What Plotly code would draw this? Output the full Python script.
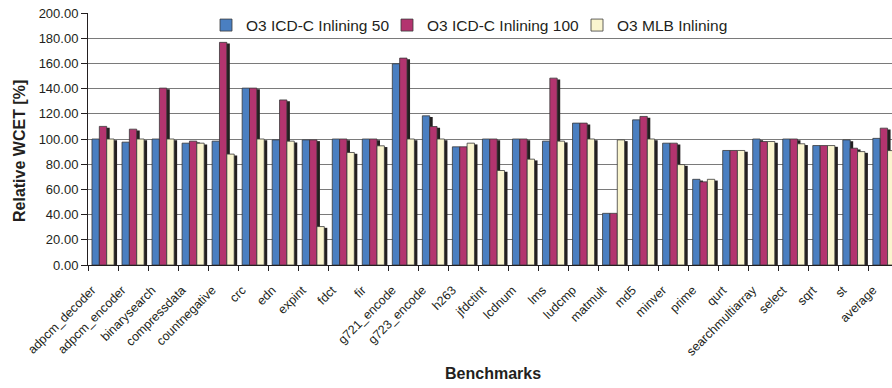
import plotly.graph_objects as go

benchmarks = ["adpcm_decoder", "adpcm_encoder", "binarysearch", "compressdata", "countnegative",
              "crc", "edn", "expint", "fdct", "fir", "g721_encode", "g723_encode", "h263",
              "jfdctint", "lcdnum", "lms", "ludcmp", "matmult", "md5", "minver", "prime", "qurt",
              "searchmultiarray", "select", "sqrt", "st", "average"]
icdc_50 = [100, 97.5, 100, 96.7, 98.3, 140.4, 99.3, 99.3, 100, 100, 159.7, 118.4, 93.8,
           100, 100, 98.3, 112.6, 41, 115.2, 96.7, 68, 90.9, 100, 100, 94.8, 99.3, 100.5]
icdc_100 = [110, 107.8, 140.4, 98.3, 176.7, 140.4, 131, 99.3, 100, 100, 164.2, 109.9, 93.8,
            100, 100, 148.3, 112.6, 41, 117.9, 96.7, 66, 90.9, 98, 100, 94.8, 92.7, 108.6]
mlb = [100, 100, 100, 96.7, 88, 100, 98.3, 30.5, 89.3, 94.6, 100, 100, 96.7,
       75, 84, 98.3, 100, 99.3, 100, 79.7, 68, 90.9, 98, 96.2, 94.8, 90, 90.8]
series_names = ["O3 ICD-C Inlining 50", "O3 ICD-C Inlining 100", "O3 MLB Inlining"]

colors = ["#4a7fc1", "#b3346f", "#faf5cf"]
W = 0.245
offsets = [-1.5 * W, -0.5 * W, 0.5 * W]
FONT = "Liberation Sans, Arial, Helvetica, sans-serif"
legend_ids = ["legend", "legend2", "legend3"]
legend_px = [206, 387, 577]

L, T, PW, PH = 88, 13, 892 - 88, 252

fig = go.Figure()
all_series = [icdc_50, icdc_100, mlb]
# shadows first
for vals, off in zip(all_series, offsets):
    fig.add_trace(go.Bar(x=benchmarks, y=[v - 1.0 for v in vals], width=W, offset=off + 0.1,
                         marker=dict(color="#231f20", line=dict(width=0)),
                         showlegend=False, hoverinfo="skip"))
for vals, off, col, name, lid in zip(all_series, offsets, colors, series_names, legend_ids):
    fig.add_trace(go.Bar(x=benchmarks, y=vals, width=W, offset=off, name=name, legend=lid,
                         marker=dict(color=col, line=dict(width=0.8, color="#3a3a3a"))))

legend_common = dict(orientation="h", xanchor="left", yanchor="middle",
                     y=(T + PH - 25.5) / PH, bgcolor="rgba(0,0,0,0)",
                     font=dict(size=15.5, family=FONT), itemwidth=30)
layout_legends = {lid: dict(legend_common, x=(px - L) / PW) for lid, px in zip(legend_ids, legend_px)}

fig.update_layout(
    width=892, height=388,
    margin=dict(l=L, r=0, t=T, b=388 - T - PH),
    barmode="overlay",
    paper_bgcolor="white", plot_bgcolor="white",
    font=dict(family=FONT, size=12.5, color="#231f20"),
    showlegend=True,
    **layout_legends,
)
fig.update_xaxes(range=[-0.5, 26.27], tickangle=-45, tickson="boundaries",
                 ticks="outside", ticklen=5, tickcolor="#231f20",
                 showline=True, linecolor="#231f20", linewidth=1,
                 showgrid=False, tickfont=dict(size=12.5), automargin=False,
                 ticklabelshift=-11, ticklabelstandoff=12)
fig.update_yaxes(range=[0, 200], dtick=20, tickformat=".2f",
                 ticks="outside", ticklen=6, tickcolor="#231f20",
                 showline=True, linecolor="#231f20", linewidth=1,
                 showgrid=True, gridcolor="#7a7a7a", gridwidth=1,
                 zeroline=False, tickfont=dict(size=13), automargin=False)

fig.add_annotation(text="<b>Relative WCET [%]</b>", xref="paper", yref="paper",
                   x=(19 - L) / PW, y=(T + PH - 151) / PH, textangle=-90,
                   showarrow=False, font=dict(size=16, family=FONT),
                   xanchor="center", yanchor="middle")
fig.add_annotation(text="<b>Benchmarks</b>", xref="paper", yref="paper",
                   x=(493 - L) / PW, y=-(373 - T - PH) / PH,
                   showarrow=False, font=dict(size=16, family=FONT),
                   xanchor="center", yanchor="middle")

fig.write_html("out.html", config={"displayModeBar": False},
               post_script="document.body.style.margin='0';")
